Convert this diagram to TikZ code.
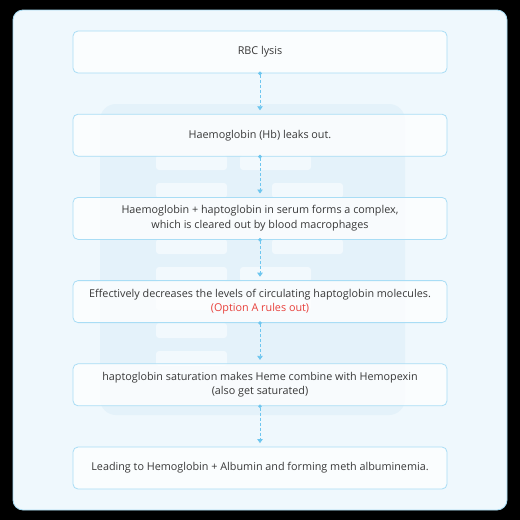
\documentclass[tikz,border=0pt]{standalone}
\usepackage{fontspec}
\setmainfont{Open Sans}
\usetikzlibrary{positioning,arrows.meta}

\definecolor{panelbg}{HTML}{EFF8FD}
\definecolor{panelline}{HTML}{A6DBF3}
\definecolor{markbg}{HTML}{E4F2FA}
\definecolor{markbar}{HTML}{F2F9FD}
\definecolor{boxline}{HTML}{A9DDF5}
\definecolor{linkblue}{HTML}{6EC6EF}
\definecolor{textgray}{HTML}{383838}
\definecolor{warnred}{HTML}{E8413C}

\begin{document}
\begin{tikzpicture}[x=1pt, y=-1pt, node distance=40.4pt,
  stepbox/.style = {shape=rectangle, rounded corners=5pt, draw=boxline, line width=0.8pt,
    fill=white, fill opacity=0.75, text opacity=1, text=textgray,
    minimum width=374pt, minimum height=42pt, align=center,
    font=\fontsize{10.8}{14.5}\selectfont},
  link/.style = {draw=linkblue, line width=0.7pt, dash pattern=on 3pt off 2pt,
    {Circle[length=3.6pt]}-{Triangle[length=4pt,width=5.5pt]}, shorten <=-1.8pt, shorten >=3.5pt},
  markbar/.style = {fill=markbar, rounded corners=3pt}]

  % page and panel
  \fill[black] (0,0) rectangle (520,520);
  \useasboundingbox (0,0) rectangle (520,520);
  \draw[panelline, fill=panelbg, line width=0.8pt, rounded corners=10pt] (13,10) rectangle (507,510);

  % faint document mark behind the steps
  \fill[markbg, rounded corners=16pt] (100,104) rectangle (405,415);
  \foreach \y in {155,183,211,239,267,295,323,351}
    \fill[markbar] (156,\y) rectangle (227,\y+15);
  \foreach \y in {155,267,295}
    \fill[markbar] (240,\y) rectangle (311,\y+15);
  \foreach \y in {183,211,239}
    \fill[markbar] (272,\y) rectangle (343,\y+15);

  % steps
  \node[stepbox] (lysis) at (260,52) {RBC lysis};
  \node[stepbox, below=of lysis] (leak) {Haemoglobin (Hb) leaks out.};
  \node[stepbox, below=of leak] (complex) {Haemoglobin + haptoglobin in serum forms a complex,\\
    which is cleared out by blood macrophages};
  \node[stepbox, below=of complex] (decrease) {Effectively decreases the levels of circulating haptoglobin molecules.\\
    \textcolor{warnred}{(Option A rules out)}};
  \node[stepbox, below=of decrease] (heme) {haptoglobin saturation makes Heme combine with Hemopexin\\
    (also get saturated)};
  \node[stepbox, below=of heme] (albumin) {Leading to Hemoglobin + Albumin and forming meth albuminemia.};

  % connectors
  \foreach \a/\b in {lysis/leak, leak/complex, complex/decrease, decrease/heme, heme/albumin}
    \draw[link] (\a.south) -- (\b.north);
\end{tikzpicture}
\end{document}
